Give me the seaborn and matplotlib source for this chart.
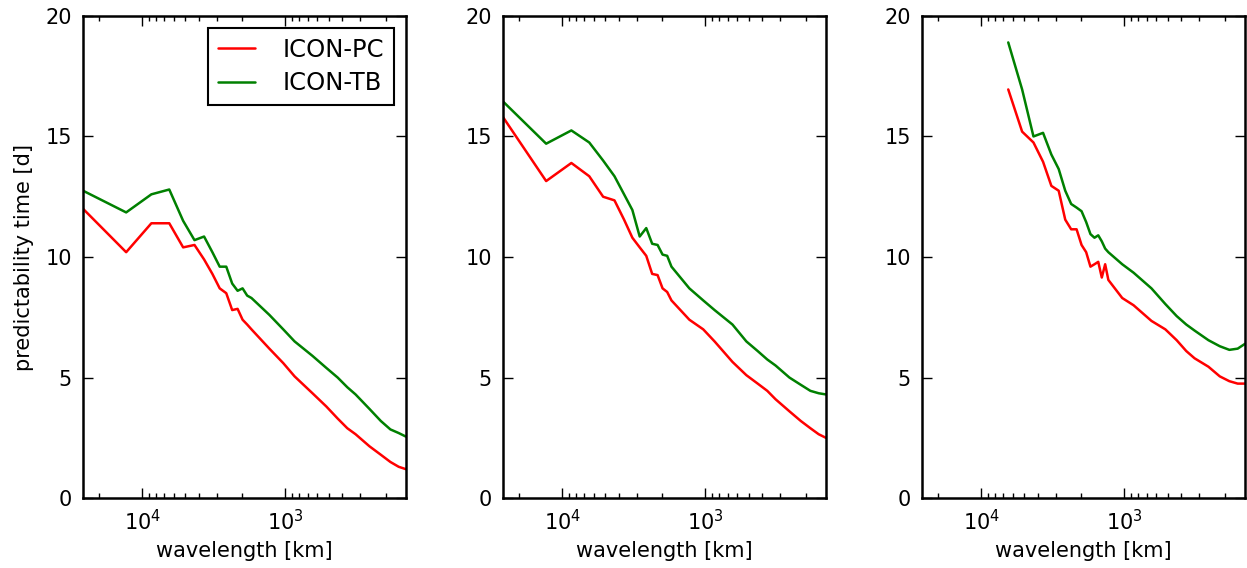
import numpy as np
import pandas as pd
import seaborn as sns
import matplotlib.pyplot as plt

# zonal wavenumbers; wavelength = circle length / k
circle_km = 25900.0
k_full = [1, 2, 3, 4, 5, 6, 7, 8, 9, 10, 11, 12, 13, 14, 15,
          20, 25, 30, 40, 50, 60, 70, 80, 100, 120, 140, 160, 180]
k_part = [4, 5, 6, 7, 8, 9, 10, 11, 12, 13, 14, 15, 16, 17, 18, 19, 20,
          25, 30, 40, 50, 60, 70, 80, 100, 120, 140, 160, 180]

# predictability time [d], one list per panel and model
pc_left = [12.0, 10.2, 11.4, 11.4, 10.4, 10.5, 9.9, 9.3, 8.7, 8.5, 7.8, 7.85, 7.4, 7.2, 7.0,
           6.2, 5.6, 5.05, 4.35, 3.8, 3.3, 2.9, 2.65, 2.15, 1.8, 1.5, 1.3, 1.2]
tb_left = [12.75, 11.85, 12.6, 12.8, 11.5, 10.7, 10.85, 10.2, 9.6, 9.6, 8.9, 8.6, 8.7, 8.4, 8.3,
           7.6, 7.0, 6.5, 5.9, 5.4, 5.0, 4.6, 4.3, 3.7, 3.2, 2.85, 2.7, 2.55]
pc_mid = [15.8, 13.15, 13.9, 13.35, 12.5, 12.35, 11.55, 10.8, 10.4, 10.05, 9.3, 9.25, 8.7, 8.55, 8.2,
          7.4, 7.0, 6.5, 5.65, 5.1, 4.75, 4.45, 4.1, 3.6, 3.2, 2.9, 2.65, 2.5]
tb_mid = [16.45, 14.7, 15.25, 14.75, 14.0, 13.35, 12.6, 11.95, 10.85, 11.2, 10.55, 10.5, 10.1, 10.05, 9.6,
          8.7, 8.2, 7.8, 7.2, 6.5, 6.1, 5.75, 5.5, 5.0, 4.7, 4.45, 4.35, 4.3]
pc_right = [16.95, 15.2, 14.75, 13.95, 12.95, 12.75, 11.55, 11.15, 11.15, 10.5, 10.2, 9.6, 9.7, 9.8,
            9.15, 9.7, 9.05, 8.3, 8.0, 7.35, 7.0, 6.55, 6.1, 5.8, 5.45, 5.05, 4.85, 4.75, 4.75]
tb_right = [18.9, 16.95, 15.0, 15.15, 14.25, 13.65, 12.75, 12.2, 12.05, 11.9, 11.45, 10.95, 10.8, 10.9,
            10.65, 10.35, 10.2, 9.7, 9.35, 8.7, 8.05, 7.55, 7.2, 6.95, 6.55, 6.3, 6.15, 6.2, 6.4]

panels = [(k_full, pc_left, tb_left), (k_full, pc_mid, tb_mid), (k_part, pc_right, tb_right)]

sns.set_style('ticks')
plt.rcParams.update({
    'font.family': ['DejaVu Sans'],
    'text.color': 'black', 'axes.labelcolor': 'black',
    'xtick.color': 'black', 'ytick.color': 'black',
    'axes.linewidth': 1.8,
    'axes.edgecolor': 'black',
    'xtick.direction': 'in', 'ytick.direction': 'in',
    'xtick.top': True, 'ytick.right': True,
    'xtick.major.size': 7, 'ytick.major.size': 7,
    'xtick.minor.size': 3.5, 'ytick.minor.size': 3.5,
    'xtick.major.width': 1, 'ytick.major.width': 1,
    'xtick.minor.width': 1,
    'xtick.major.pad': 8, 'ytick.major.pad': 8,
    'xtick.labelsize': 15, 'ytick.labelsize': 15,
    'axes.labelsize': 15,
})

fig = plt.figure(figsize=(12.47, 5.68), dpi=100)
lefts = [0.0666, 0.4034, 0.7394]
colors = {'ICON-PC': '#ff0000', 'ICON-TB': '#008000'}

for i, (k, pc, tb) in enumerate(panels):
    ax = fig.add_axes([lefts[i], 0.123, 0.259, 0.849])
    k = np.array(k, dtype=float)
    df = pd.DataFrame({
        'wavelength': np.concatenate([circle_km / k, circle_km / k]),
        'time': pc + tb,
        'model': ['ICON-PC'] * len(k) + ['ICON-TB'] * len(k),
    })
    sns.lineplot(data=df, x='wavelength', y='time', hue='model', palette=colors,
                 estimator=None, linewidth=1.8, ax=ax, legend=(i == 0))
    ax.set_xscale('log')
    ax.set_xlim(circle_km, circle_km / 180)
    ax.set_ylim(0, 20)
    ax.set_yticks([0, 5, 10, 15, 20])
    ax.set_xlabel('wavelength [km]', labelpad=5)
    if i == 0:
        ax.set_ylabel('predictability time [d]', labelpad=8)
        old = ax.get_legend()
        handles = old.legend_handles
        labels = [t.get_text() for t in old.get_texts()]
        leg = ax.legend(handles, labels, loc='upper right', fontsize=17.5, fancybox=False,
                        framealpha=1, edgecolor='black', handlelength=1.5,
                        handletextpad=1.15, borderpad=0.4, labelspacing=0.38,
                        borderaxespad=0.5)
        leg.get_frame().set_linewidth(1.5)
    else:
        ax.set_ylabel('')

fig.savefig('out.png', dpi=100)
